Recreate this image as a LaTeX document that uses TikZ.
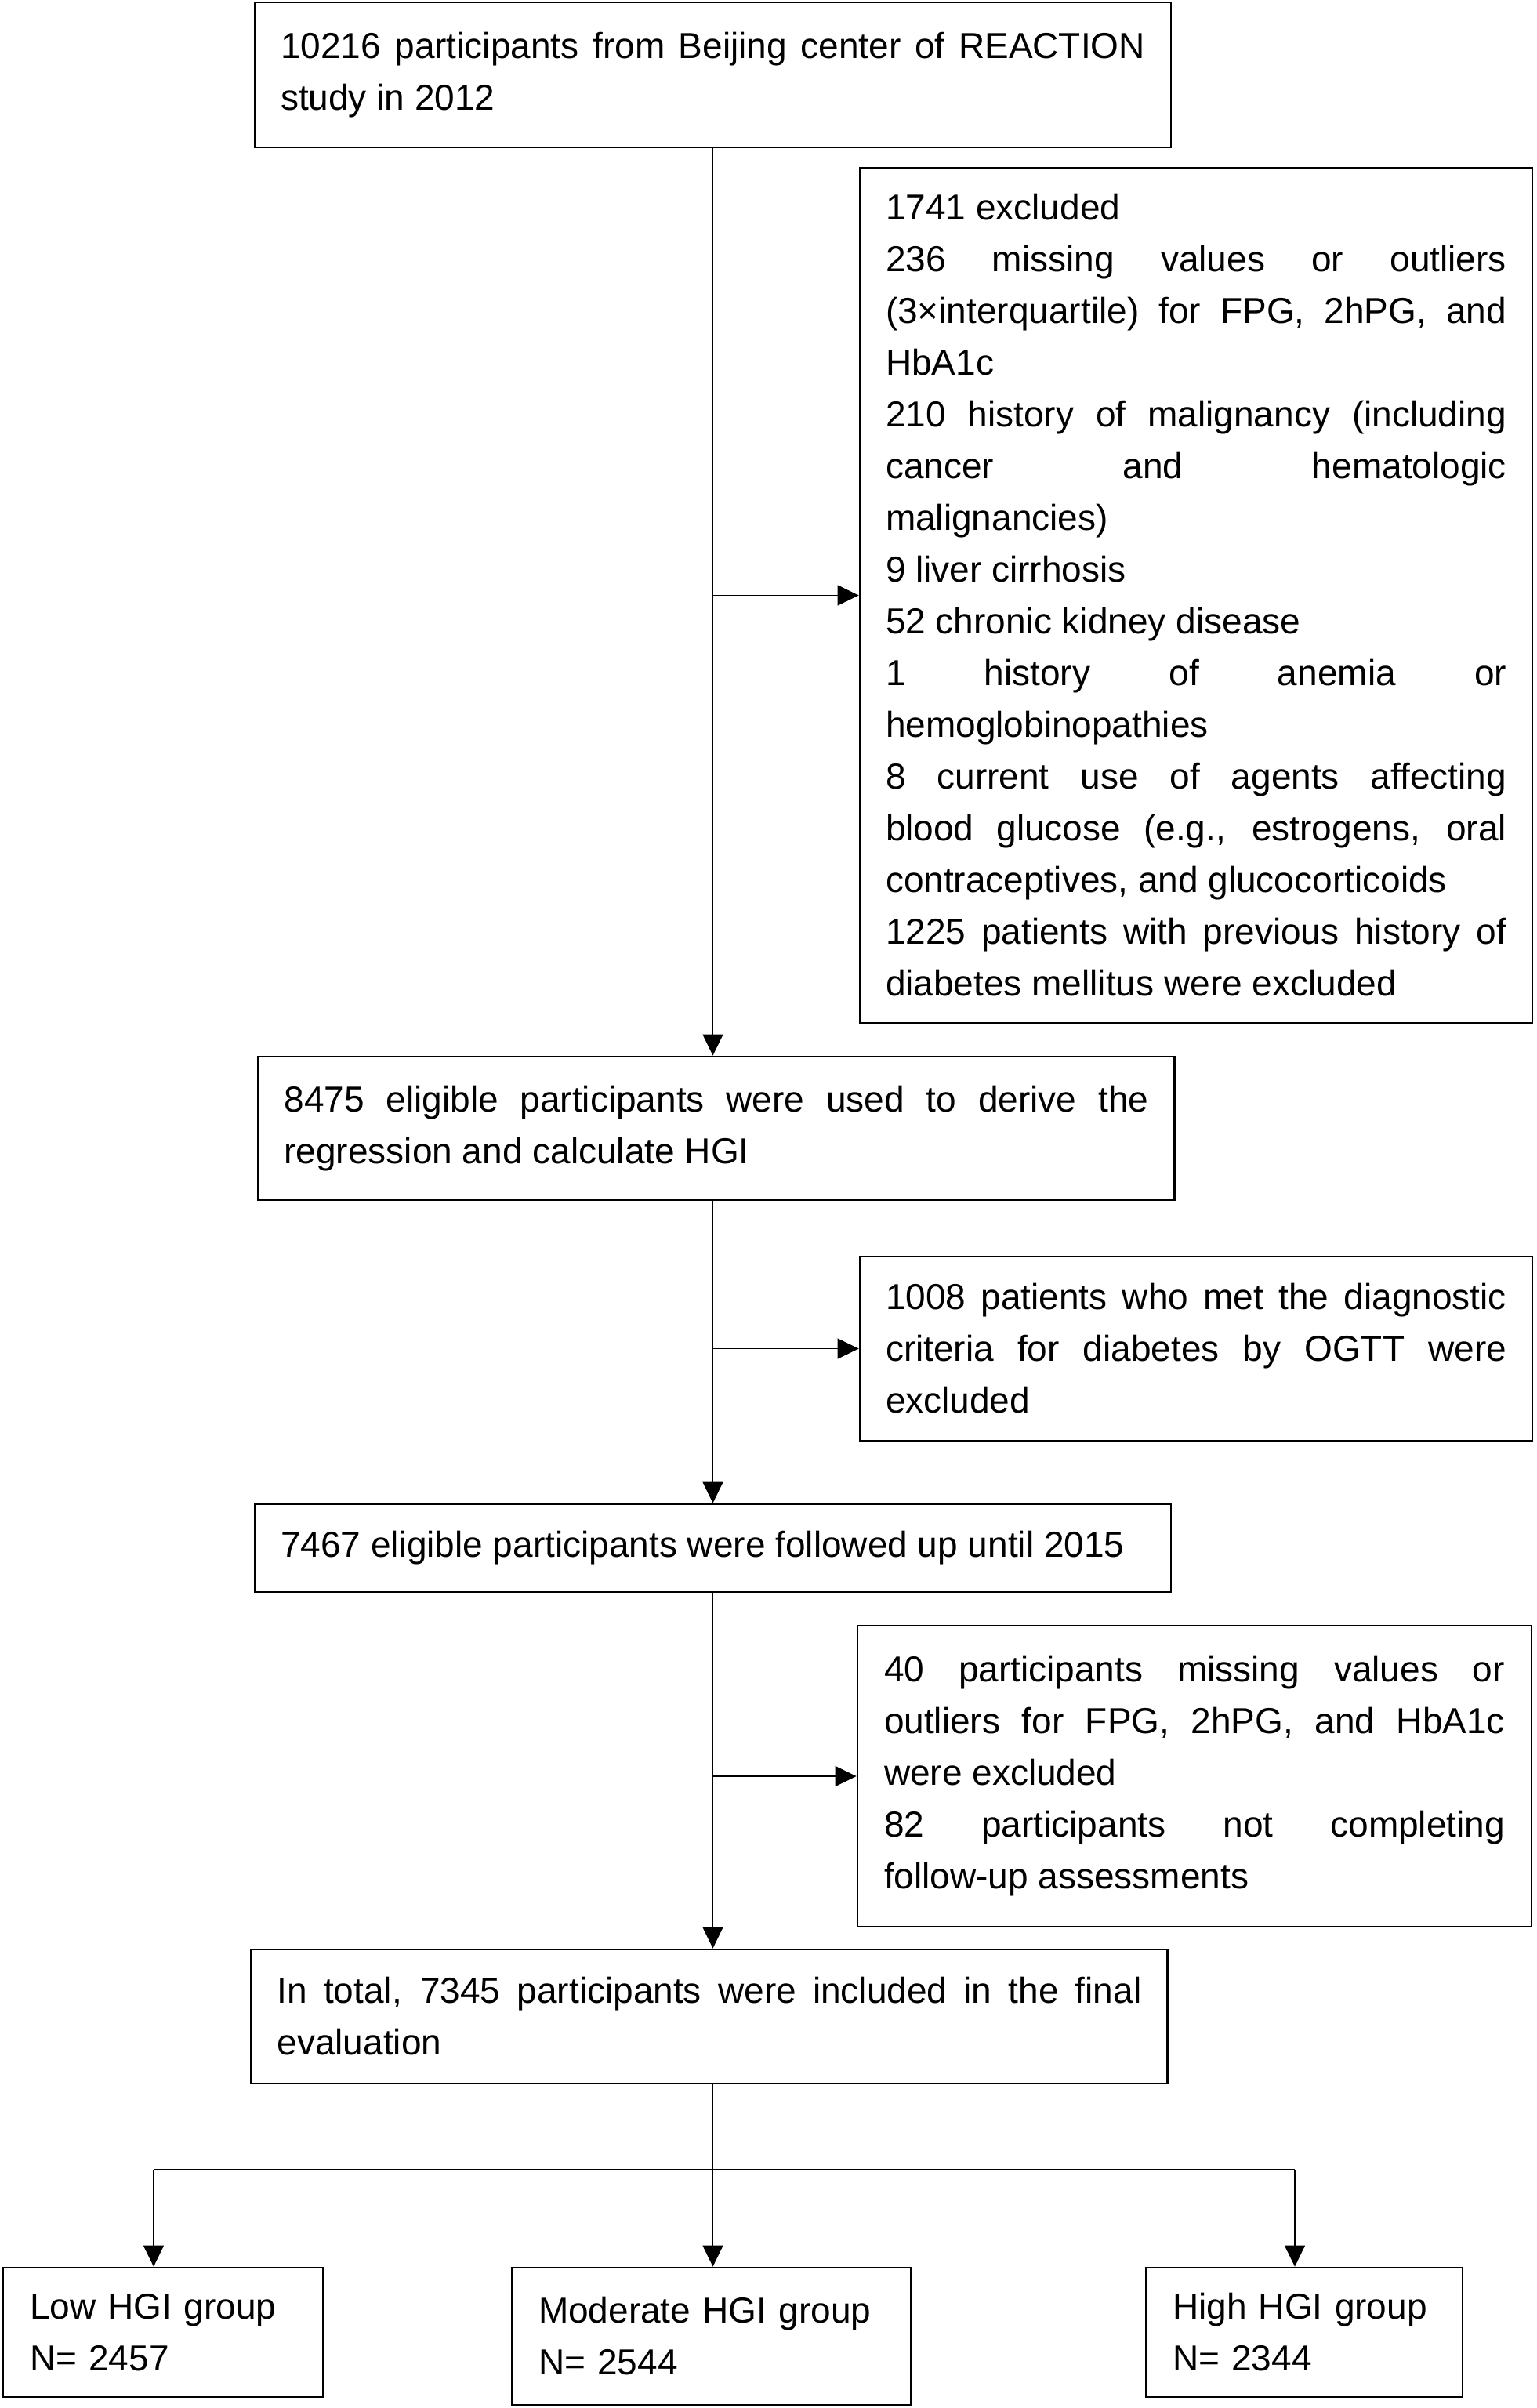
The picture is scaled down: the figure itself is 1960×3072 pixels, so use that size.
\documentclass[tikz,border=0pt]{standalone}
\usepackage{fontspec}
\setmainfont{Liberation Sans}
\usetikzlibrary{arrows.meta}
\hbadness=10000
\tikzset{
  box/.style={draw, line width=1.4pt, rectangle, inner xsep=16.5pt, align=justify,
    font=\fontsize{23pt}{33pt}\selectfont},
  wide/.style={box, text width=551.5pt, minimum width=584.5pt},
  side/.style={box, text width=396pt, minimum width=429pt},
  group/.style={box, align=left, inner xsep=17pt},
  link/.style={line width=0.65pt, -{Triangle[length=13.5pt,width=13pt]}}
}
\begin{document}
\begin{tikzpicture}[x=0.5pt,y=-0.5pt]
    \useasboundingbox (0,0) rectangle (1960,3072);
    \node at (909.5,95.5) [wide,minimum height=92.5pt] (start) {10216 participants from Beijing center of REACTION\linebreak study in 2012};
    \node at (1526,759.5) [side,minimum height=545.5pt] (exclA) {1741 excluded\\
        236 missing values or outliers\linebreak (3×interquartile) for FPG, 2hPG, and\linebreak HbA1c\\
        210 history of malignancy (including\linebreak cancer and hematologic\linebreak malignancies)\\
        9 liver cirrhosis\\
        52 chronic kidney disease\\
        1 history of anemia or\linebreak hemoglobinopathies\\
        8 current use of agents affecting\linebreak blood glucose (e.g., estrogens, oral\linebreak contraceptives, and glucocorticoids\\
        1225 patients with previous history of\linebreak diabetes mellitus were excluded};
    \node at (914,1439.5) [wide,minimum height=91.5pt] (eligible) {8475 eligible participants were used to derive the\linebreak regression and calculate HGI};
    \node at (1526,1720.5) [side,minimum height=117.5pt] (exclB) {1008 patients who met the diagnostic\linebreak criteria for diabetes by OGTT were\linebreak excluded};
    \node at (909.5,1975) [wide,minimum height=56pt] (followed) {7467 eligible participants were followed up until 2015};
    \node at (1524,2266) [side,minimum height=192pt,minimum width=430pt] (exclC) {40 participants missing values or\linebreak outliers for FPG, 2hPG, and HbA1c\linebreak were excluded\\
        82 participants not completing\linebreak follow-up assessments};
    \node at (905,2572.5) [wide,minimum height=85.5pt] (total) {In total, 7345 participants were included in the final\linebreak evaluation};
    \node at (208,2975.5) [group,text width=170pt,minimum width=204pt,minimum height=82.5pt] (low) {Low HGI group\\N= 2457};
    \node at (907.5,2980.5) [group,text width=220.5pt,minimum width=254.5pt,minimum height=87.5pt] (moderate) {Moderate HGI group\\N= 2544\par\vspace*{8.5pt}};
    \node at (1664,2975.5) [group,text width=168pt,minimum width=202pt,minimum height=82.5pt] (high) {High HGI group\\N= 2344};
    \coordinate (forkL) at (196,2768);
    \coordinate (forkR) at (1652,2768);
    \draw[link] (start.south) -- (start.south |- eligible.north);
    \draw[link] (start.south |- exclA.west) -- (exclA.west);
    \draw[link] (start.south |- eligible.south) -- (start.south |- followed.north);
    \draw[link] (start.south |- exclB.west) -- (exclB.west);
    \draw[link] (start.south |- followed.south) -- (start.south |- total.north);
    \draw[link] (start.south |- exclC.west) -- (exclC.west);
    \draw[link] (start.south |- total.south) -- (start.south |- moderate.north);
    \draw[line width=0.65pt] (forkL) -- (forkR);
    \draw[link] (forkL) -- (forkL |- low.north);
    \draw[link] (forkR) -- (forkR |- high.north);
\end{tikzpicture}
\end{document}
